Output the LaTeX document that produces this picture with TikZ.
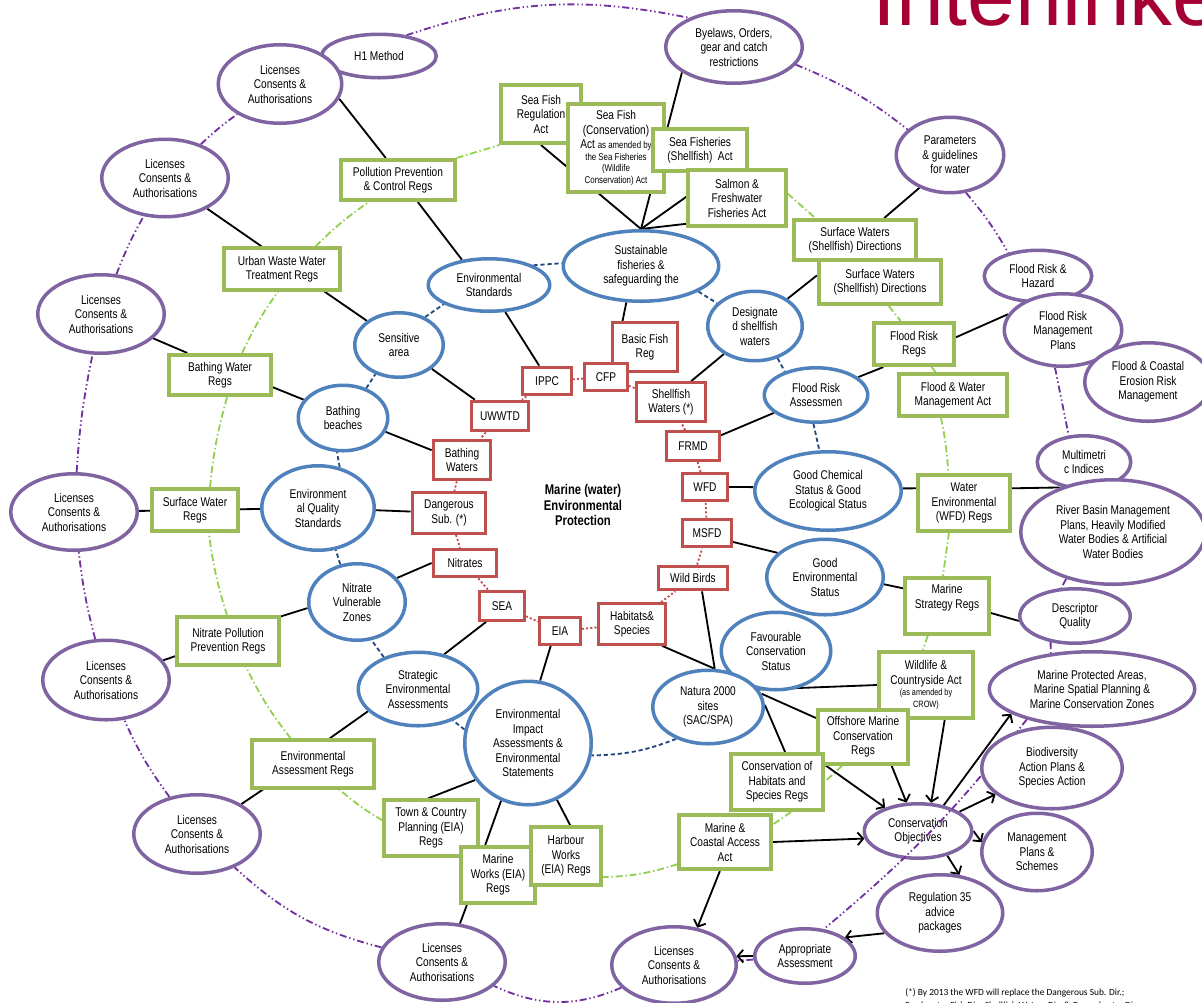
\documentclass[tikz,border=0pt]{standalone}
\usepackage{fontspec}
\setmainfont{Liberation Sans}[FakeStretch=0.8]
\newfontfamily\titlefont{Liberation Sans}
\newfontfamily\notefont{Carlito}
\usepackage{xcolor}
\usepackage{tikz}
\usetikzlibrary{shapes.geometric, arrows.meta, backgrounds}

\definecolor{ovalpurple}{RGB}{128,100,162}
\definecolor{ringpurple}{RGB}{112,48,160}
\definecolor{ovalblue}{RGB}{79,129,189}
\definecolor{ringblue}{RGB}{31,73,125}
\definecolor{boxgreen}{RGB}{155,187,89}
\definecolor{ringgreen}{RGB}{146,208,80}
\definecolor{boxred}{RGB}{192,80,77}
\definecolor{titlered}{RGB}{165,0,52}

\begin{document}
\begin{tikzpicture}[
  x=0.025cm, y=-0.025cm,
  every node/.style={font=\fontsize{9}{10.3}\selectfont, align=center, inner sep=1pt},
  wh/.style 2 args={minimum width=#1*0.025cm-2.5pt, minimum height=#2*0.025cm-2.5pt},
  purplenode/.style={ellipse, draw=ovalpurple, line width=2.5pt, fill=white},
  bluenode/.style={ellipse, draw=ovalblue, line width=2.5pt, fill=white},
  greenbox/.style={rectangle, draw=boxgreen, line width=2.6pt, fill=white},
  redbox/.style={rectangle, draw=boxred, line width=2.3pt, fill=white},
  link/.style={line width=1.3pt, black},
  arrow/.style={link, -{Straight Barb[length=4pt, width=9pt]}},
  purplering/.style={line width=1.3pt, color=ringpurple, dash pattern=on 5pt off 2pt on 1pt off 2pt on 1pt off 2pt},
  greenring/.style={line width=1.3pt, color=ringgreen, dash pattern=on 5pt off 2pt on 1pt off 2pt},
  bluering/.style={line width=1.3pt, color=ringblue, dash pattern=on 3pt off 2pt},
  redring/.style={line width=1.3pt, color=boxred, dash pattern=on 1.5pt off 1.5pt}
]
\useasboundingbox (0,0) rectangle (1202,1002);
\clip (0,0) rectangle (1202,1002);

% outer ring: licences and plans
\node[purplenode, wh={118}{47}] (h1) at (379,56) {H1 Method};
\node[purplenode, wh={127}{82}] (lic1) at (280,84) {Licenses\\Consents \&\\Authorisations};
\node[purplenode, wh={130}{81}] (lic2) at (165,178) {Licenses\\Consents \&\\Authorisations};
\node[purplenode, wh={130}{82}] (lic3) at (101,314) {Licenses\\Consents \&\\Authorisations};
\node[purplenode, wh={130}{80}] (lic4) at (74,512) {Licenses\\Consents \&\\Authorisations};
\node[purplenode, wh={130}{83}] (lic5) at (106,680) {Licenses\\Consents \&\\Authorisations};
\node[purplenode, wh={130}{82}] (lic6) at (197,834) {Licenses\\Consents \&\\Authorisations};
\node[purplenode, wh={130}{80}] (lic7) at (442,962) {Licenses\\Consents \&\\Authorisations};
\node[purplenode, wh={128}{80}] (lic8) at (674,965) {Licenses\\Consents \&\\Authorisations};
\node[purplenode, wh={140}{76}] (byelaws) at (734,47) {Byelaws, Orders,\\gear and catch\\restrictions};
\node[purplenode, wh={111}{79}] (params) at (950,155) {Parameters\\\& guidelines\\for water};
\node[purplenode, wh={111}{55}] (frhazard) at (1038,276) {Flood Risk \&\\Hazard};
\node[purplenode, wh={121}{76}] (frmp) at (1063,330) {Flood Risk\\Management\\Plans};
\node[purplenode, wh={130}{82}] (fcerm) at (1148,382) {Flood \& Coastal\\Erosion Risk\\Management};
\node[purplenode, wh={97}{56}] (multimetric) at (1084,462) {Multimetri\\c Indices};
\node[purplenode, wh={188}{108}] (rbmp) at (1113,532) {River Basin Management\\Plans, Heavily Modified\\Water Bodies \& Artificial\\Water Bodies};
\node[purplenode, wh={114}{58}] (descriptor) at (1075,616) {Descriptor\\Quality};
\node[purplenode, wh={209}{78}] (mpa) at (1092,689) {Marine Protected Areas,\\Marine Spatial Planning \&\\Marine Conservation Zones};
\node[purplenode, wh={114}{81}] (mgmt) at (1037,852) {Management\\Plans \&\\Schemes};
\node[purplenode, wh={129}{80}] (reg35) at (940,913) {Regulation 35\\advice\\packages};
\node[purplenode, wh={104}{58}] (approp) at (805,956) {Appropriate\\Assessment};
\node[purplenode, wh={111}{58}] (consobj) at (918,831) {Conservation\\Objectives};
\draw[purplering] (mpa.205) to[bend left=6] (approp.55);
\node[purplenode, wh={144}{85}] (biodiv) at (1052,768) {Biodiversity\\Action Plans \&\\Species Action};

% blue ring: designations and standards
\node[bluenode, wh={125}{56}] (envstd) at (489,285) {Environmental\\Standards};
\node[bluenode, wh={159}{74}] (sustain) at (641,266) {Sustainable\\fisheries \&\\safeguarding the};
\node[bluenode, wh={98}{73}] (designated) at (755,326) {Designate\\d shellfish\\waters};
\node[bluenode, wh={92}{68}] (sensitive) at (399,345) {Sensitive\\area};
\node[bluenode, wh={107}{58}] (floodassess) at (816,395) {Flood Risk\\Assessmen};
\node[bluenode, wh={93}{69}] (bathbeach) at (343,418) {Bathing\\beaches};
\node[bluenode, wh={150}{82}] (goodchem) at (828,491) {Good Chemical\\Status \& Good\\Ecological Status};
\node[bluenode, wh={116}{88}] (eqs) at (318,508) {Environment\\al Quality\\Standards};
\node[bluenode, wh={120}{79}] (goodenv) at (825,577) {Good\\Environmental\\Status};
\node[bluenode, wh={100}{80}] (nvz) at (357,602) {Nitrate\\Vulnerable\\Zones};
\node[bluenode, wh={113}{81}] (favour) at (776,651) {Favourable\\Conservation\\Status};
\node[bluenode, wh={114}{77}] (natura) at (708,707) {Natura 2000\\sites\\(SAC/SPA)};
\node[bluenode, wh={123}{77}] (seassess) at (418,689) {Strategic\\Environmental\\Assessments};
\node[bluenode, wh={130}{127}] (eias) at (528,743) {Environmental\\Impact\\Assessments \&\\Environmental\\Statements};

% green ring: regulations and acts
\node[greenbox, wh={117}{44}] (ppc) at (398,180) {Pollution Prevention\\\& Control Regs};
\node[greenbox, wh={119}{45}] (uww) at (282,269) {Urban Waste Water\\Treatment Regs};
\node[greenbox, wh={105}{44}] (bwregs) at (220,375) {Bathing Water\\Regs};
\node[greenbox, wh={89}{46}] (swregs) at (195,510) {Surface Water\\Regs};
\node[greenbox, wh={105}{51}] (nitpp) at (228,641) {Nitrate Pollution\\Prevention Regs};
\node[greenbox, wh={125}{51}] (envassess) at (313,764) {Environmental\\Assessment Regs};
\node[greenbox, wh={97}{59}] (tcp) at (431,828) {Town \& Country\\Planning (EIA)\\Regs};
\node[greenbox, wh={77}{60}] (mworks) at (498,875) {Marine\\Works (EIA)\\Regs};
\node[greenbox, wh={73}{61}] (harbour) at (566,856) {Harbour\\Works\\(EIA) Regs};
\node[greenbox, wh={95}{58}] (mca) at (725,842) {Marine \&\\Coastal Access\\Act};
\node[greenbox, wh={98}{70}] (wildlife) at (926,685) {Wildlife \&\\Countryside Act\\[-2pt]{\fontsize{6.5}{7.5}\selectfont (as amended by}\\[-2pt]{\fontsize{6.5}{7.5}\selectfont CROW)}};
\node[greenbox, wh={94}{57}] (offshore) at (863,737) {Offshore Marine\\Conservation\\Regs};
\node[greenbox, wh={95}{60}] (conshab) at (777,782) {Conservation of\\Habitats and\\Species Regs};
\node[greenbox, wh={87}{59}] (msregs) at (947,606) {Marine\\Strategy Regs\\\strut};
\node[greenbox, wh={96}{59}] (wfdregs) at (964,503) {Water\\Environmental\\(WFD) Regs};
\node[greenbox, wh={83}{46}] (floodregs) at (914,344) {Flood Risk\\Regs};
\node[greenbox, wh={111}{45}] (floodwater) at (953,395) {Flood \& Water\\Management Act};
\node[greenbox, wh={125}{44}] (sw1) at (855,240) {Surface Waters\\(Shellfish) Directions};
\node[greenbox, wh={126}{48}] (sw2) at (880,282) {Surface Waters\\(Shellfish) Directions};
\node[greenbox, wh={83}{62}] (seafishreg) at (541,114) {Sea Fish\\Regulation\\Act};
\node[greenbox, wh={99}{91}] (seafishcons) at (616,148) {Sea Fish\\(Conservation)\\Act {\fontsize{7}{8}\selectfont as amended by}\\[-2pt]{\fontsize{7}{8}\selectfont the Sea Fisheries}\\[-2pt]{\fontsize{7}{8}\selectfont (Wildlife}\\[-2pt]{\fontsize{7}{8}\selectfont Conservation) Act}};
\node[greenbox, wh={97}{45}] (seafisheries) at (700,150) {Sea Fisheries\\(Shellfish)\ \ Act};
\node[greenbox, wh={101}{60}] (salmon) at (737,198) {Salmon \&\\Freshwater\\Fisheries Act};

% red ring: directives
\node[redbox, wh={68}{52}] (basicfish) at (645,347) {Basic Fish\\Reg};
\node[redbox, wh={46}{30}] (cfp) at (606,377) {CFP};
\node[redbox, wh={52}{31}] (ippc) at (547,381) {IPPC};
\node[redbox, wh={73}{42}] (shellfish) at (671,402) {Shellfish\\Waters (*)};
\node[redbox, wh={61}{33}] (uwwtd) at (500,416) {UWWTD};
\node[redbox, wh={56}{32}] (frmd) at (693,446) {FRMD};
\node[redbox, wh={61}{43}] (bathwaters) at (462,460) {Bathing\\Waters};
\node[redbox, wh={48}{30}] (wfd) at (705,487) {WFD};
\node[redbox, wh={77}{44}] (dangerous) at (449,513) {Dangerous\\Sub. (*)};
\node[redbox, wh={52}{31}] (msfd) at (707,533) {MSFD};
\node[redbox, wh={67}{31}] (nitrates) at (465,563) {Nitrates};
\node[redbox, wh={73}{27}] (wildbirds) at (693,578) {Wild Birds};
\node[redbox, wh={48}{32}] (sea) at (502,606) {SEA};
\node[redbox, wh={44}{30}] (eia) at (560,631) {EIA};
\node[redbox, wh={70}{44}] (habitats) at (632,624) {Habitats\&\\Species};

\node[font=\fontsize{10}{11}\selectfont\bfseries] (centre) at (583,505) {Marine (water)\\Environmental\\Protection};
\node[anchor=base west, inner sep=0pt, text=titlered, font=\titlefont\fontsize{61}{64}\selectfont] (heading) at (872,25) {Interlinke};
\node[anchor=north west, inner sep=0pt, align=left, font=\notefont\fontsize{6.7}{9.5}\selectfont] (footnote) at (905,988) {(*) By 2013 the WFD will replace the Dangerous Sub. Dir.;\\Freshwater Fish Dir.; Shellfish Waters Dir. \& Groundwater Dir.};

\begin{scope}[on background layer]
% rings
\draw[purplering] (h1.37) to[bend left=15] (byelaws.147);
\draw[purplering] (byelaws.-16) to[bend left=8] (params.149);
\draw[purplering] (params.-67) to[bend left=5] (frhazard.142);
\draw[purplering] (frmp.258) -- (multimetric.120);
\draw[purplering] (rbmp.225) -- (descriptor.116);
\draw[purplering] (descriptor.227) -- (mpa.139);
\draw[purplering] (approp) -- (lic8);
\draw[purplering] (lic8) to[bend left=24] (lic7);
\draw[purplering] (lic7) to[bend left=14] (lic6);
\draw[purplering] (lic6) to[bend left=6] (lic5);
\draw[purplering] (lic5) to[bend left=4] (lic4);
\draw[purplering] (lic4) to[bend left=4] (lic3);
\draw[purplering] (lic3) to[bend left=4] (lic2);
\draw[purplering] (lic2) to[bend left=4] (lic1);

\draw[greenring] (ppc.north east) -- (seafishreg.south west);
\draw[greenring] (salmon.5) -- (sw1.151);
\draw[greenring] (sw2.-70) -- (floodregs.120);
\draw[greenring] (floodregs) -- (floodwater);
\draw[greenring] (floodwater.242) to[bend left=4] (wfdregs.118);
\draw[greenring] (wfdregs.243) -- (msregs.98);
\draw[greenring] (msregs.237) -- (wildlife.95);
\draw[greenring] (offshore.234) -- (conshab.east);
\draw[greenring] (conshab.-65) -- (mca.20);
\draw[greenring] (mca.205) to[bend left=8] (harbour.-30);
\draw[greenring] (tcp.171) to[bend left=5] (envassess.-44);
\draw[greenring] (envassess.131) to[bend left=6] (nitpp.-55);
\draw[greenring] (nitpp.92) to[bend left=5] (swregs.-59);
\draw[greenring] (swregs.57) to[bend left=5] (bwregs.-72);
\draw[greenring] (bwregs.45) to[bend left=5] (uww.-100);
\draw[greenring] (uww.34) to[bend left=5] (ppc.217);

\draw[bluering] (envstd.24) -- (sustain.178);
\draw[bluering] (sustain.-24) -- (designated.149);
\draw[bluering] (designated.-55) -- (floodassess.143);
\draw[bluering] (floodassess.265) -- (goodchem.102);
\draw[bluering] (natura.225) to[bend left=10] (eias.-11);
\draw[bluering] (eias.168) -- (seassess.-42);
\draw[bluering] (seassess.137) -- (nvz.-69);
\draw[bluering] (nvz.114) -- (eqs.-67);
\draw[bluering] (eqs.62) -- (bathbeach.260);
\draw[bluering] (bathbeach.52) -- (sensitive.231);
\draw[bluering] (sensitive.47) -- (envstd.203);

\draw[redring] (cfp) -- (ippc);
\draw[redring] (ippc) -- (uwwtd);
\draw[redring] (uwwtd) -- (bathwaters);
\draw[redring] (bathwaters) -- (dangerous);
\draw[redring] (dangerous) -- (nitrates);
\draw[redring] (nitrates) -- (sea);
\draw[redring] (sea) -- (eia);
\draw[redring] (eia) -- (habitats);
\draw[redring] (habitats) -- (wildbirds);
\draw[redring] (wildbirds) -- (msfd);
\draw[redring] (msfd) -- (wfd);
\draw[redring] (wfd) -- (frmd);
\draw[redring] (frmd) -- (shellfish);
\draw[redring] (shellfish) -- (cfp);

% links
\draw[link] (lic1.-14) -- (ppc.119);
\draw[link] (ppc.-48) -- (envstd.137);
\draw[link] (lic2.-36) -- (uww.132);
\draw[link] (uww.-28) -- (sensitive.143);
\draw[link] (lic3.-25) -- (bwregs.146);
\draw[link] (bwregs.-13) -- (bathbeach.155);
\draw[link] (bathbeach.-18) -- (bathwaters.162);
\draw[link] (sensitive.-36) -- (uwwtd.147);
\draw[link] (envstd.-59) -- (ippc.117);
\draw[link] (sustain.-112) -- (basicfish.131);
\draw[link] (designated.222) -- (shellfish.46);
\draw[link] (sw2.174) -- (designated.40);
\draw[link] (params.227) -- (sw1.37);
\draw[link] (byelaws.206) -- (sustain.north);
\draw[link] (seafishreg.south) -- (sustain.north);
\draw[link] (seafisheries.-48) -- (sustain.north);
\draw[link] (salmon.207) -- (sustain.north);
\draw[link] (floodregs.9) -- (frmp.164);
\draw[link] (floodregs.217) -- (floodassess.23);
\draw[link] (floodassess.203) -- (frmd.21);
\draw[link] (wfd.east) -- (goodchem.177);
\draw[link] (goodchem.2) -- (wfdregs.163);
\draw[link] (wfdregs.17) -- (rbmp.140);
\draw[link] (msfd.-19) -- (goodenv.153);
\draw[link] (goodenv.-7) -- (msregs.158);
\draw[link] (msregs.-9) -- (descriptor.185);
\draw[link] (wildbirds.-56) -- (natura.80);
\draw[link] (habitats.-36) -- (natura.80);
\draw[link] (natura.19) -- (wildlife.west);
\draw[link] (natura.14) -- (offshore.158);
\draw[link] (natura.2) -- (conshab.75);
\draw[link] (mworks.224) -- (lic7.65);
\draw[link] (eias.215) -- (tcp.96);
\draw[link] (eias.245) -- (mworks.113);
\draw[link] (eias.-63) -- (harbour.82);
\draw[link] (eia.238) -- (eias.79);
\draw[link] (sea.225) -- (seassess.53);
\draw[link] (seassess.204) -- (envassess.57);
\draw[link] (lic6.34) -- (envassess.207);
\draw[link] (lic5.19) -- (nitpp.196);
\draw[link] (nitpp.25) -- (nvz.187);
\draw[link] (nvz.31) -- (nitrates.west);
\draw[link] (lic4) -- (swregs);
\draw[link] (swregs) -- (eqs);
\draw[link] (eqs) -- (dangerous);

\draw[arrow] (conshab.20) -- (consobj);
\draw[arrow] (offshore.-45) -- (consobj);
\draw[arrow] (wildlife.-62) -- (consobj.65);
\draw[arrow] (consobj.45) -- (mpa.197);
\draw[arrow] (consobj.25) -- (biodiv.205);
\draw[arrow] (consobj.east) -- (mgmt.170);
\draw[arrow] (consobj.-40) -- (reg35.63);
\draw[arrow] (reg35.200) -- (approp.25);
\draw[arrow] (mca.east) -- (consobj.188);
\draw[arrow] (mca.-100) -- (lic8.58);
\draw[arrow] (approp.180) -- (lic8.8);
\end{scope}
\end{tikzpicture}
\end{document}
